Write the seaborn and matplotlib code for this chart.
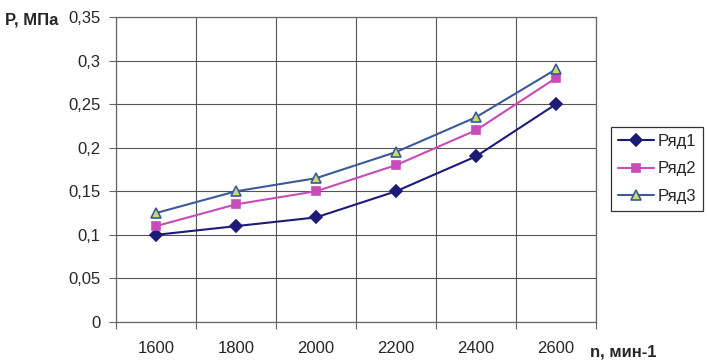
import numpy as np
import pandas as pd
import seaborn as sns
import matplotlib.pyplot as plt

# Data
rpm = ["1600", "1800", "2000", "2200", "2400", "2600"]
ryad1 = [0.10, 0.11, 0.12, 0.15, 0.19, 0.25]
ryad2 = [0.11, 0.135, 0.15, 0.18, 0.22, 0.28]
ryad3 = [0.125, 0.15, 0.165, 0.195, 0.235, 0.29]
y_ticks = [0, 0.05, 0.1, 0.15, 0.2, 0.25, 0.3, 0.35]
y_labels = ["0", "0,05", "0,1", "0,15", "0,2", "0,25", "0,3", "0,35"]

sns.set_style("white")
plt.rcParams['font.family'] = ['Liberation Sans', 'DejaVu Sans']

fig = plt.figure(figsize=(7.07, 3.64), dpi=100)
ax = fig.add_axes([0.164, 0.1154, 0.679, 0.8379])

pos = np.arange(len(rpm))
styles = [
    ("Ряд1", ryad1, "#1c1c78", "D", "#1c1c78", "#1c1c78", 6),
    ("Ряд2", ryad2, "#c84bb8", "s", "#c84bb8", "#c84bb8", 6),
    ("Ряд3", ryad3, "#3a5a9c", "^", "#c8dc6a", "#3a5a9c", 7),
]
for name, vals, col, mk, mfc, mec, ms in styles:
    df = pd.DataFrame({"x": pos, "y": vals})
    sns.lineplot(data=df, x="x", y="y", ax=ax, color=col, marker=mk,
                 markerfacecolor=mfc, markeredgecolor=mec, markersize=ms,
                 markeredgewidth=1.2, linewidth=1.5, label=name)

ax.set_xlim(-0.5, len(rpm) - 0.5)
ax.set_ylim(0, 0.35)
ax.set_xticks(pos)
ax.set_xticklabels(rpm)
ax.set_xticks(np.arange(-0.5, len(rpm), 1.0), minor=True)
ax.tick_params(axis="x", which="major", length=0, pad=14, labelsize=12)
ax.tick_params(axis="x", which="minor", length=5, width=0.8, color="#666666",
               direction="out", bottom=True)
ax.set_yticks(y_ticks)
ax.set_yticklabels(y_labels)
ax.tick_params(axis="y", length=5, width=0.8, color="#666666", direction="out",
               left=True, labelsize=12, pad=6)

ax.grid(False)
ax.yaxis.grid(True, color="#555555", linewidth=0.8)
ax.xaxis.grid(True, which="minor", color="#555555", linewidth=0.8)
ax.set_axisbelow(True)
for s in ax.spines.values():
    s.set_color("#666666")
    s.set_linewidth(0.9)

ax.set_xlabel("")
ax.set_ylabel("")
fig.text(5 / 707, 1 - 20 / 364, "P, МПа", fontsize=12, fontweight="bold",
         ha="left", va="center")
fig.text(590 / 707, 1 - 352 / 364, "n, мин-1", fontsize=12, fontweight="bold",
         ha="left", va="center")

leg = ax.legend(loc="center left", bbox_to_anchor=(611 / 707, 1 - 169 / 364),
                bbox_transform=fig.transFigure, frameon=True, fancybox=False,
                fontsize=12, handlelength=2.2, borderpad=0.4, labelspacing=0.75,
                handletextpad=0.2, borderaxespad=0)
leg.get_frame().set_edgecolor("#000000")
leg.get_frame().set_linewidth(0.9)

fig.savefig("out.png", dpi=100)
